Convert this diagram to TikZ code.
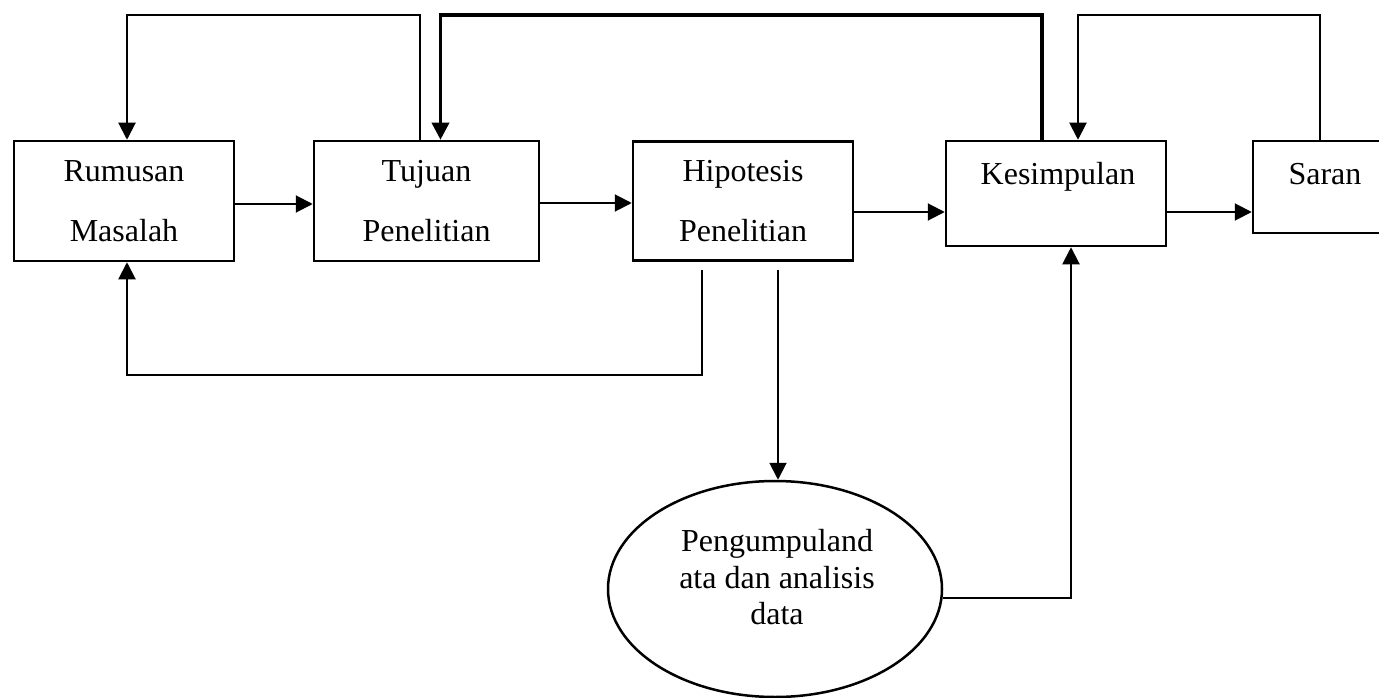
\documentclass[tikz,border=0pt]{standalone}
\usepackage{fontspec}
\setmainfont{Liberation Serif}
\usetikzlibrary{arrows.meta,shapes.geometric}
\begin{document}
\begin{tikzpicture}[x=1pt,y=-1pt,
  box/.style={draw,line width=2.5pt,rectangle,inner sep=0pt,align=center,
    font=\fontsize{32}{60}\selectfont},
  oval/.style={draw,line width=2.5pt,ellipse,inner sep=0pt},
  lbl/.style={inner sep=0pt,anchor=base,font=\fontsize{32}{38}\selectfont},
  link/.style={line width=2pt,-{Triangle[length=17pt,width=17pt]}}]
\useasboundingbox[fill=white] (0,0) rectangle (1379,698);

% process boxes
\node[box,minimum width=220,minimum height=120] (R) at (124,201) {Rumusan\\Masalah};
\node[box,minimum width=225,minimum height=120] (T) at (426.5,201) {Tujuan\\Penelitian};
\node[box,minimum width=220,minimum height=119] (H) at (743,201) {Hipotesis\\Penelitian};
\node[box,minimum width=220,minimum height=105] (K) at (1056,193.5) {};
\node[box,minimum width=142,minimum height=92] (S) at (1324,187) {};
\node[lbl] (Kt) at (1058,185) {Kesimpulan};
\node[lbl] (St) at (1325,185) {Saran};

% data collection
\node[oval,minimum width=334,minimum height=216] (E) at (775,589) {};
\node[inner sep=0pt,align=center,font=\fontsize{32}{36.5}\selectfont] (Et) at (777,577.5)
  {Pengumpuland\\ata dan analisis\\data};

% routing points
\coordinate (top) at (0,15);
\coordinate (low) at (0,375);
\coordinate (tOut) at ([xshift=-7pt]T.north);
\coordinate (rIn) at ([xshift=3pt]R.north);
\coordinate (kOut) at ([xshift=-14pt]K.north);
\coordinate (tIn) at ([xshift=14pt]T.north);
\coordinate (sOut) at ([xshift=-4pt]S.north);
\coordinate (kIn) at ([xshift=22pt]K.north);
\coordinate (hFb) at ([xshift=-41pt,yshift=-8pt]H.south);
\coordinate (rBot) at ([xshift=3pt]R.south);
\coordinate (hDn) at ([xshift=35pt,yshift=-8pt]H.south);
\coordinate (eOut) at ([yshift=-9pt]E.east);
\coordinate (kBot) at ([xshift=15pt]K.south);
\coordinate (hOut) at ([yshift=-11pt]H.east);
\coordinate (kOut2) at ([yshift=-18.5pt]K.east);

% forward flow
\draw[link] ([yshift=-3pt]R.east) -- ([yshift=-3pt]T.west);
\draw[link] ([yshift=-2pt]T.east) -- ([yshift=-2pt]H.west);
\draw[link] (hOut) -- (hOut -| K.west);
\draw[link] (kOut2) -- (kOut2 -| S.west);
\draw[link] (hDn) -- (hDn |- E.north);
\draw[link] (eOut) -| (kBot);

% feedback loops
\draw[link] (tOut) -- (tOut |- top) -| (rIn);
\draw[link,line width=3.5pt] (kOut) -- (kOut |- top) -| (tIn);
\draw[link] (sOut) -- (sOut |- top) -| (kIn);
\draw[link] (hFb) -- (hFb |- low) -| (rBot);
\end{tikzpicture}
\end{document}
